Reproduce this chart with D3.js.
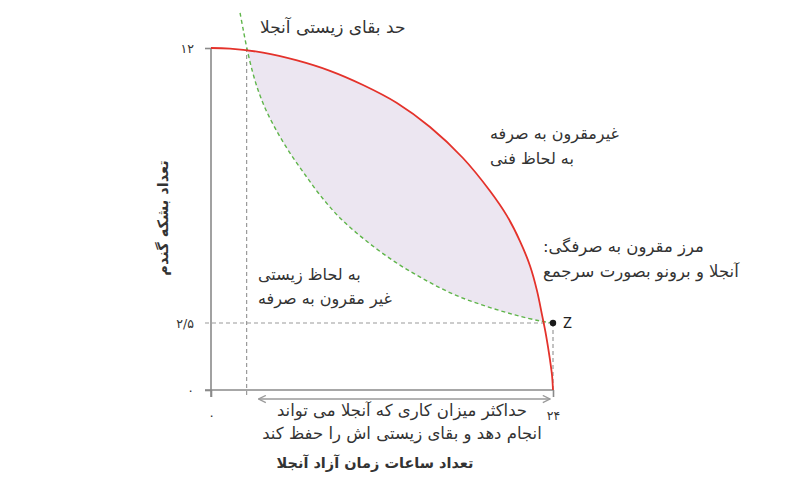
<!DOCTYPE html>
<html>
<head>
<meta charset="utf-8">
<script src="https://cdn.jsdelivr.net/npm/d3@7"></script>
<style>
  html, body { margin: 0; padding: 0; background: #fff; }
  svg { display: block; }
  .fa { font-family: "DejaVu Sans", "Noto Sans", sans-serif; fill: #333; }
</style>
</head>
<body>
<svg id="chart" width="810" height="479"></svg>
<script>
// ---------- data ----------
const xTickValues = [0, 24];
const xTickLabels = ["۰", "۲۴"];
const yTickValues = [0, 2.5, 12];
const yTickLabels = ["۰", "۲/۵", "۱۲"];

// feasible frontier (Angela + Bruno together): hours of free time vs bushels of grain
const ppfHours   = [0, 1.33, 3.65, 6.04, 8.35, 10.67, 13.05, 15.37, 17.68, 19.58, 20.77, 21.68, 22.39, 22.88, 23.23, 23.51, 23.79, 23.93, 24];
const ppfBushels = [12, 11.98, 11.84, 11.57, 11.21, 10.72, 10.10, 9.27, 8.20, 7.06, 6.20, 5.33, 4.47, 3.61, 2.78, 2.05, 1.12, 0.56, 0];

// Angela's biological survival constraint
const survHours   = [2.04, 2.25, 2.53, 2.88, 3.30, 3.79, 4.49, 5.40, 6.46, 7.65, 9.05, 10.81, 12.91, 15.02, 17.12, 19.23, 21.33, 23.09, 24];
const survBushels = [13.21, 12.66, 11.97, 11.24, 10.55, 9.93, 9.24, 8.48, 7.72, 6.92, 6.13, 5.37, 4.61, 3.99, 3.47, 3.09, 2.78, 2.57, 2.5];

const survivalMinHours = 2.5;
const zPoint = { h: 24, b: 2.5, label: "Z" };

const titleTop   = "حد بقای زیستی آنجلا";
const techLines  = ["غیرمقرون به صرفه", "به لحاظ فنی"];
const frontLines = ["مرز مقرون به صرفگی:", "آنجلا و برونو بصورت سرجمع"];
const bioLines   = ["به لحاظ زیستی", "غیر مقرون به صرفه"];
const maxLines   = ["حداکثر میزان کاری که آنجلا می تواند", "انجام دهد و بقای زیستی اش را حفظ کند"];
const xTitle = "تعداد ساعات زمان آزاد آنجلا";
const yTitle = "تعداد بشکه گندم";

// ---------- layout ----------
const svg = d3.select("#chart");
const x = d3.scaleLinear().domain([0, 24]).range([211, 553]);
const y = d3.scaleLinear().domain([0, 2.5, 12]).range([390, 323, 48]);

const RED = "#e4322b", GREEN = "#5fb54a", GRAY = "#9a9a9a", AXIS = "#8a8a8a", FILL = "#ece6f1";

const ppf = ppfHours.map((h, i) => ({ h, b: ppfBushels[i] }));
const surv = survHours.map((h, i) => ({ h, b: survBushels[i] }));

const curve = d3.curveCatmullRom.alpha(0.5);

// ---------- shaded lens (below frontier, above survival line) ----------
const defs = svg.append("defs");
defs.append("clipPath").attr("id", "underPPF")
  .append("path")
  .attr("d", d3.area().x(d => x(d.h)).y0(y(0)).y1(d => y(d.b)).curve(curve)(ppf));

svg.append("path")
  .attr("clip-path", "url(#underPPF)")
  .attr("fill", FILL)
  .attr("d", d3.area().x(d => x(d.h)).y0(d => y(d.b)).y1(y(14)).curve(curve)(surv));

// ---------- axes ----------
const yAxis = d3.axisLeft(y).tickValues(yTickValues).tickSize(6).tickSizeOuter(0).tickPadding(11)
  .tickFormat((d, i) => yTickLabels[i]);
const gy = svg.append("g").attr("transform", `translate(${x(0)},0)`).call(yAxis);

const xAxis = d3.axisBottom(x).tickValues(xTickValues).tickSize(7).tickSizeOuter(0).tickPadding(14)
  .tickFormat((d, i) => xTickLabels[i]);
const gx = svg.append("g").attr("transform", `translate(0,${y(0)})`).call(xAxis);

[gx, gy].forEach(g => {
  g.select(".domain").attr("stroke", AXIS).attr("stroke-width", 1.6);
  g.selectAll(".tick line").attr("stroke", AXIS).attr("stroke-width", 1.6);
  g.selectAll(".tick text").attr("class", "fa").attr("font-size", 12.5).attr("fill", "#333");
});
gy.selectAll(".tick").filter(d => d === 2.5).select("line").remove();
gy.select(".domain").attr("d", `M0,${y(12)}V${y(0) + 7}`);
gx.select(".domain").attr("d", `M${x(0) - 6},0H${x(24)}`);

// ---------- dashed guides ----------
svg.append("line")
  .attr("x1", x(0) - 6).attr("x2", x(zPoint.h))
  .attr("y1", y(zPoint.b)).attr("y2", y(zPoint.b))
  .attr("stroke", GRAY).attr("stroke-width", 1.2).attr("stroke-dasharray", "4,3");
svg.append("line")
  .attr("x1", x(zPoint.h)).attr("x2", x(zPoint.h))
  .attr("y1", y(zPoint.b)).attr("y2", y(0))
  .attr("stroke", GRAY).attr("stroke-width", 1.2).attr("stroke-dasharray", "4,3");
svg.append("line")
  .attr("x1", x(survivalMinHours)).attr("x2", x(survivalMinHours))
  .attr("y1", y(12)).attr("y2", y(0) + 7)
  .attr("stroke", GRAY).attr("stroke-width", 1.2).attr("stroke-dasharray", "4,3");

// ---------- curves ----------
svg.append("path")
  .attr("fill", "none").attr("stroke", GREEN).attr("stroke-width", 1.4)
  .attr("stroke-dasharray", "4,3")
  .attr("d", d3.line().x(d => x(d.h)).y(d => y(d.b)).curve(curve)(surv));

svg.append("path")
  .attr("fill", "none").attr("stroke", RED).attr("stroke-width", 1.8)
  .attr("d", d3.line().x(d => x(d.h)).y(d => y(d.b)).curve(curve)(ppf));

// ---------- point Z ----------
svg.append("circle").attr("cx", x(zPoint.h)).attr("cy", y(zPoint.b)).attr("r", 3.2).attr("fill", "#1a1a1a");
svg.append("text").attr("x", x(zPoint.h) + 10).attr("y", y(zPoint.b) + 5)
  .attr("font-family", "Roboto, 'Liberation Sans', sans-serif").attr("font-size", 15).attr("fill", "#222")
  .text(zPoint.label);

// ---------- double arrow ----------
const mk = (id, orient) => {
  defs.append("marker").attr("id", id).attr("viewBox", "0 0 10 10").attr("refX", 9).attr("refY", 5)
    .attr("markerWidth", 9).attr("markerHeight", 9).attr("markerUnits", "userSpaceOnUse")
    .attr("orient", orient)
    .append("path").attr("d", "M1,1 L9,5 L1,9").attr("fill", "none").attr("stroke", GRAY).attr("stroke-width", 1.4);
};
mk("arrEnd", "auto"); mk("arrStart", "auto-start-reverse");
svg.append("line")
  .attr("x1", x(survivalMinHours) + 12).attr("x2", x(24) - 3)
  .attr("y1", y(0) + 9).attr("y2", y(0) + 9)
  .attr("stroke", GRAY).attr("stroke-width", 1.4)
  .attr("marker-start", "url(#arrStart)").attr("marker-end", "url(#arrEnd)");

// ---------- text annotations (RTL, anchored at left edge) ----------
function rtlLeft(lines, left, firstCenter, lh, size) {
  lines.forEach((t, i) => {
    svg.append("text").attr("class", "fa")
      .attr("direction", "rtl").style("direction", "rtl")
      .attr("text-anchor", "end")
      .attr("x", left).attr("y", firstCenter + i * lh + size * 0.36)
      .attr("font-size", size).text(t);
  });
}
function rtlCenter(lines, cx, firstCenter, lh, size, weight) {
  lines.forEach((t, i) => {
    svg.append("text").attr("class", "fa")
      .attr("direction", "rtl").style("direction", "rtl")
      .attr("text-anchor", "middle")
      .attr("x", cx).attr("y", firstCenter + i * lh + size * 0.36)
      .attr("font-size", size).attr("font-weight", weight || "normal").text(t);
  });
}
rtlLeft([titleTop], 260, 27, 0, 17);
rtlLeft(techLines, 490, 133, 25, 16);
rtlLeft(frontLines, 543, 246, 25, 16.5);
rtlLeft(bioLines, 258, 274, 24, 16);
rtlCenter(maxLines, 402, 410, 23, 16.5);
rtlCenter([xTitle], 375, 463, 0, 14.5, "bold");

svg.append("text").attr("class", "fa")
  .attr("direction", "rtl").style("direction", "rtl")
  .attr("text-anchor", "middle").attr("font-weight", "bold").attr("font-size", 14.5)
  .attr("transform", `translate(${163 + 14.5 * 0.36},218) rotate(-90)`)
  .text(yTitle);
</script>
</body>
</html>
